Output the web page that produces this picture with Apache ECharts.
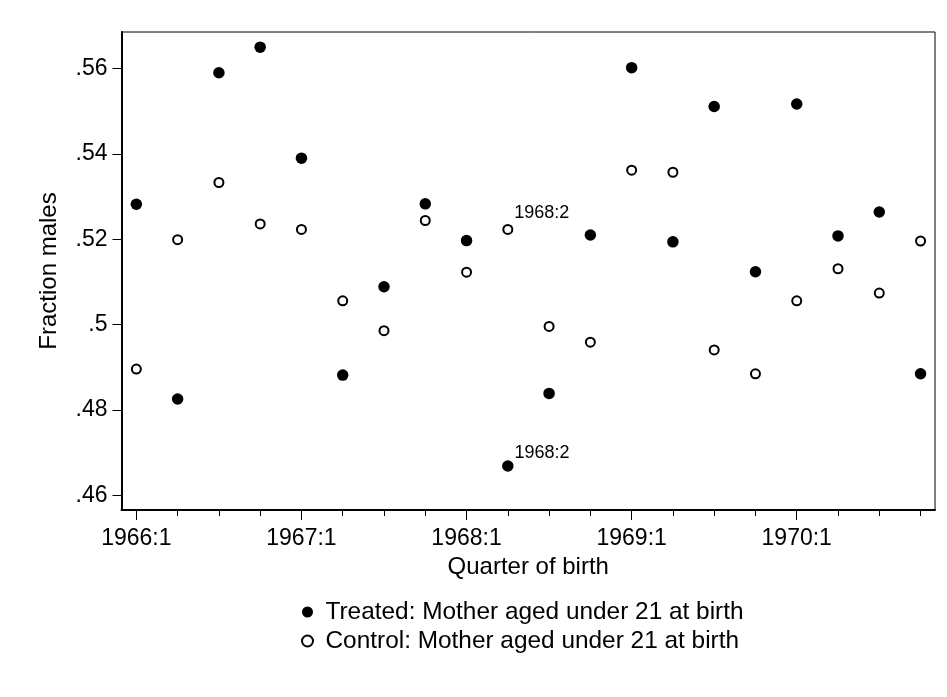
<!DOCTYPE html>
<html>
<head>
<meta charset="utf-8">
<title>Fraction males by quarter of birth</title>
<script src="https://cdn.jsdelivr.net/npm/echarts@6/dist/echarts.min.js"></script>
<style>
    html, body { margin: 0; padding: 0; background: #fff; }
    #chart { width: 947px; height: 697px; }
</style>
</head>
<body>
<div id="chart"></div>
<script>
// quarters of birth, 1966:1 .. 1970:4
const quarters = [
    '1966:1', '1966:2', '1966:3', '1966:4',
    '1967:1', '1967:2', '1967:3', '1967:4',
    '1968:1', '1968:2', '1968:3', '1968:4',
    '1969:1', '1969:2', '1969:3', '1969:4',
    '1970:1', '1970:2', '1970:3', '1970:4'
]
// fraction of males
const treated = [
    0.5282, 0.4826, 0.5590, 0.5650,
    0.5390, 0.4882, 0.5089, 0.5283,
    0.5197, 0.4669, 0.4839, 0.5210,
    0.5602, 0.5194, 0.5511, 0.5124,
    0.5517, 0.5208, 0.5264, 0.4885
]
const control = [
    0.4896, 0.5199, 0.5333, 0.5236,
    0.5223, 0.5056, 0.4986, 0.5244,
    0.5123, 0.5223, 0.4996, 0.4959,
    0.5362, 0.5357, 0.4941, 0.4885,
    0.5056, 0.5131, 0.5074, 0.5196
]
const yTicks = [0.46, 0.48, 0.5, 0.52, 0.54, 0.56]
const labelledQuarter = '1968:2'

const FONT = 'Liberation Sans, Arial, Helvetica, sans-serif'
const majorIdx = [0, 4, 8, 12, 16]
const allIdx = quarters.map((q, i) => i)

// points, only the 1968:2 quarter carries a label
function buildData(values, dy) {
    return values.map((v, i) => {
        const item = { value: [i, v] }
        if (quarters[i] === labelledQuarter) {
            item.label = {
                show: true,
                position: 'right',
                distance: 1,
                offset: [0, dy],
                formatter: quarters[i],
                fontSize: 18,
                fontFamily: FONT,
                color: '#000'
            }
        }
        return item
    })
}

const chart = echarts.init(document.getElementById('chart'))
const option = {
    backgroundColor: '#fff',
    animation: false,
    grid: {
        left: 121.5,
        right: 12,
        top: 32,
        bottom: 187,
        show: true,
        borderColor: '#000',
        borderWidth: 1
    },
    legend: {
        orient: 'vertical',
        left: 296,
        top: 595,
        itemWidth: 26,
        itemHeight: 11,
        itemGap: 5,
        textStyle: { fontSize: 24.4, lineHeight: 24, fontFamily: FONT, color: '#000' },
        data: ['Treated: Mother aged under 21 at birth', 'Control: Mother aged under 21 at birth']
    },
    xAxis: [
        {
            type: 'value',
            min: -0.36,
            max: 19.35,
            name: 'Quarter of birth',
            nameLocation: 'middle',
            nameGap: 40,
            nameTextStyle: { fontSize: 24, fontFamily: FONT, color: '#000' },
            splitLine: { show: false },
            axisLine: { onZero: false, lineStyle: { color: '#000', width: 2 } },
            axisTick: { customValues: majorIdx, length: 10, lineStyle: { color: '#000', width: 1 } },
            axisLabel: {
                customValues: majorIdx,
                formatter: v => quarters[Math.round(v)],
                fontSize: 23,
                fontFamily: FONT,
                color: '#000',
                margin: 17
            }
        },
        {
            // minor quarter ticks
            type: 'value',
            min: -0.36,
            max: 19.35,
            position: 'bottom',
            splitLine: { show: false },
            axisLine: { show: false, onZero: false },
            axisLabel: { show: false },
            axisTick: { customValues: allIdx, length: 6, lineStyle: { color: '#000', width: 1 } }
        }
    ],
    yAxis: {
        type: 'value',
        min: 0.4566,
        max: 0.56855,
        name: 'Fraction males',
        nameLocation: 'middle',
        nameGap: 60,
        nameTextStyle: { fontSize: 24, fontFamily: FONT, color: '#000' },
        splitLine: { show: false },
        axisLine: { show: true, onZero: false, lineStyle: { color: '#000', width: 2 } },
        axisTick: { customValues: yTicks, length: 9, lineStyle: { color: '#000', width: 1 } },
        axisLabel: {
            customValues: yTicks,
            formatter: v => String(+v.toFixed(2)).replace(/^0/, ''),
            fontSize: 23,
            fontFamily: FONT,
            color: '#000',
            margin: 14
        }
    },
    series: [
        {
            name: 'Treated: Mother aged under 21 at birth',
            type: 'scatter',
            symbol: 'circle',
            symbolSize: 11.5,
            itemStyle: { color: '#000', opacity: 1 },
            data: buildData(treated, -13)
        },
        {
            name: 'Control: Mother aged under 21 at birth',
            type: 'scatter',
            symbol: 'circle',
            symbolSize: 9,
            itemStyle: { color: '#fff', borderColor: '#000', borderWidth: 2, opacity: 1 },
            data: buildData(control, -16)
        }
    ]
}
chart.setOption(option)
</script>
</body>
</html>
